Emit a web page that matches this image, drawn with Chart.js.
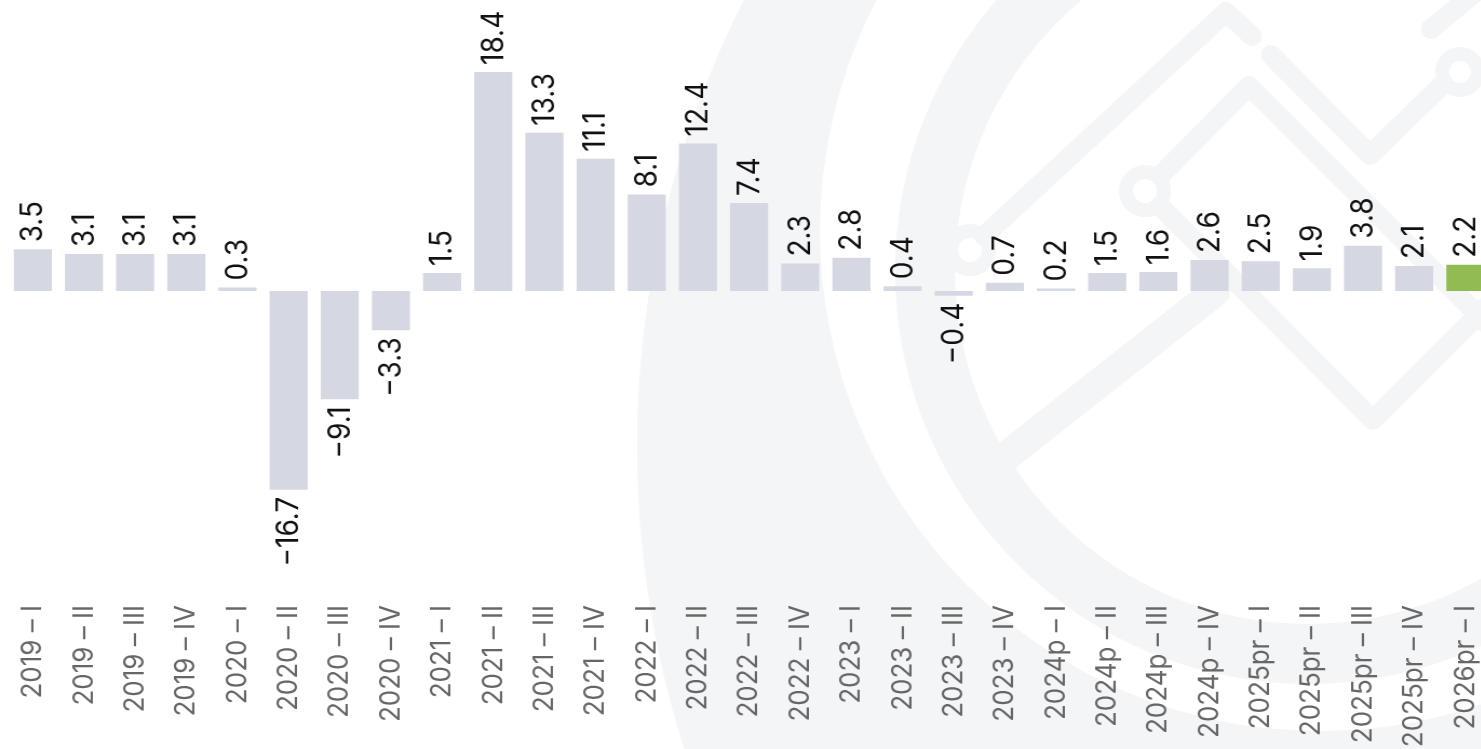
<!DOCTYPE html>
<html><head><meta charset="utf-8">
<script src="https://cdn.jsdelivr.net/npm/chart.js@4.4.1/dist/chart.umd.min.js"></script>
<style>
html,body{margin:0;padding:0;width:1481px;height:749px;overflow:hidden;background:#fff;}
#wrap{position:absolute;left:0;top:0;width:1393px;height:749px;transform:scaleX(1.08);transform-origin:0 0;}
</style></head>
<body>
<div id="wrap"><canvas id="chart"></canvas></div>
<script>
const categories = ['2019 – I','2019 – II','2019 – III','2019 – IV','2020 – I','2020 – II','2020 – III','2020 – IV','2021 – I','2021 – II','2021 – III','2021 – IV','2022 – I','2022 – II','2022 – III','2022 – IV','2023 – I','2023 – II','2023 – III','2023 – IV','2024p – I','2024p – II','2024p – III','2024p – IV','2025pr – I','2025pr – II','2025pr – III','2025pr – IV','2026pr – I'];
const values = [3.5,3.1,3.1,3.1,0.3,-16.7,-9.1,-3.3,1.5,18.4,13.3,11.1,8.1,12.4,7.4,2.3,2.8,0.4,-0.4,0.7,0.2,1.5,1.6,2.6,2.5,1.9,3.8,2.1,2.2];
const highlightIndex = [28];

const SX = 1.08;
const barColor = '#d5d8e2';
const highlightColor = '#92bc53';
const wm = '#f4f5f7';

const watermark = {
  id:'watermark',
  beforeDraw(chart){
    const ctx = chart.ctx;
    ctx.save();
    ctx.scale(1/SX,1);
    ctx.fillStyle = wm;
    ctx.beginPath();
    ctx.arc(1627,447,990,0,Math.PI*2);
    ctx.moveTo(1320+500,231);
    ctx.arc(1320,231,500,0,Math.PI*2,true);
    ctx.fill('evenodd');
    ctx.beginPath();
    ctx.arc(1308,271,413,0,Math.PI*2);
    ctx.moveTo(1308+353,271);
    ctx.arc(1308,271,353,0,Math.PI*2,true);
    ctx.fill('evenodd');
    ctx.strokeStyle = wm; ctx.lineWidth = 20; ctx.lineCap='round'; ctx.lineJoin='round';
    const lines = [
      [[984,236],[1226,12],[1252,36]],
      [[1271,55],[1370,155],[1443,84]],
      [[1431,29],[1490,-20]],
      [[1160,176],[1249,86],[1490,327]],
      [[1160,206],[1373,420],[1490,303]]
    ];
    for(const l of lines){
      ctx.beginPath(); ctx.moveTo(l[0][0],l[0][1]);
      for(let i=1;i<l.length;i++) ctx.lineTo(l[i][0],l[i][1]);
      ctx.stroke();
    }
    ctx.lineWidth = 30;
    ctx.beginPath(); ctx.moveTo(995,465); ctx.lineTo(1215,292); ctx.stroke();
    ctx.lineWidth = 14;
    for(const n of [[1460,72,18],[1145,191,19],[970,250,19]]){
      ctx.beginPath(); ctx.arc(n[0],n[1],n[2],0,Math.PI*2); ctx.stroke();
    }
    ctx.restore();
  }
};

const valueLabels = {
  id:'valueLabels',
  afterDatasetsDraw(chart){
    const ctx = chart.ctx;
    const meta = chart.getDatasetMeta(0);
    ctx.save();
    ctx.font = '28px Inter';
    ctx.fillStyle = '#111';
    ctx.textBaseline = 'alphabetic';
    meta.data.forEach((bar,i)=>{
      const v = values[i];
      const txt = (v<0?'\u2212':'') + Math.abs(v).toFixed(1);
      const top = Math.min(bar.y, bar.base), bottom = Math.max(bar.y, bar.base);
      ctx.save();
      if(v>=0){
        ctx.translate(bar.x + 9, top - 7);
        ctx.rotate(-Math.PI/2);
        ctx.textAlign='left';
      } else {
        ctx.translate(bar.x + 9, bottom + 7);
        ctx.rotate(-Math.PI/2);
        ctx.textAlign='right';
      }
      ctx.fillText(txt,0,0);
      ctx.restore();
    });
    ctx.restore();
  }
};

new Chart(document.getElementById('chart'),{
  type:'bar',
  data:{
    labels:categories,
    datasets:[{
      data:values,
      backgroundColor:values.map((v,i)=>highlightIndex.includes(i)?highlightColor:barColor),
      borderWidth:0,
      barPercentage:0.744,
      categoryPercentage:1.0
    }]
  },
  options:{
    responsive:true,
    maintainAspectRatio:false,
    animation:false,
    layout:{padding:{left:6.67,right:0,top:0,bottom:0}},
    plugins:{legend:{display:false},tooltip:{enabled:false},title:{display:false}},
    scales:{
      x:{
        grid:{display:false,drawTicks:false},
        border:{display:false},
        ticks:{color:'#666',font:{family:'Inter',size:26},minRotation:90,maxRotation:90,padding:5,autoSkip:false},
        afterFit(s){ s.height = 149; }
      },
      y:{
        display:false,
        min:-25.97,
        max:24.45
      }
    }
  },
  plugins:[watermark,valueLabels]
});
</script>
</body></html>
